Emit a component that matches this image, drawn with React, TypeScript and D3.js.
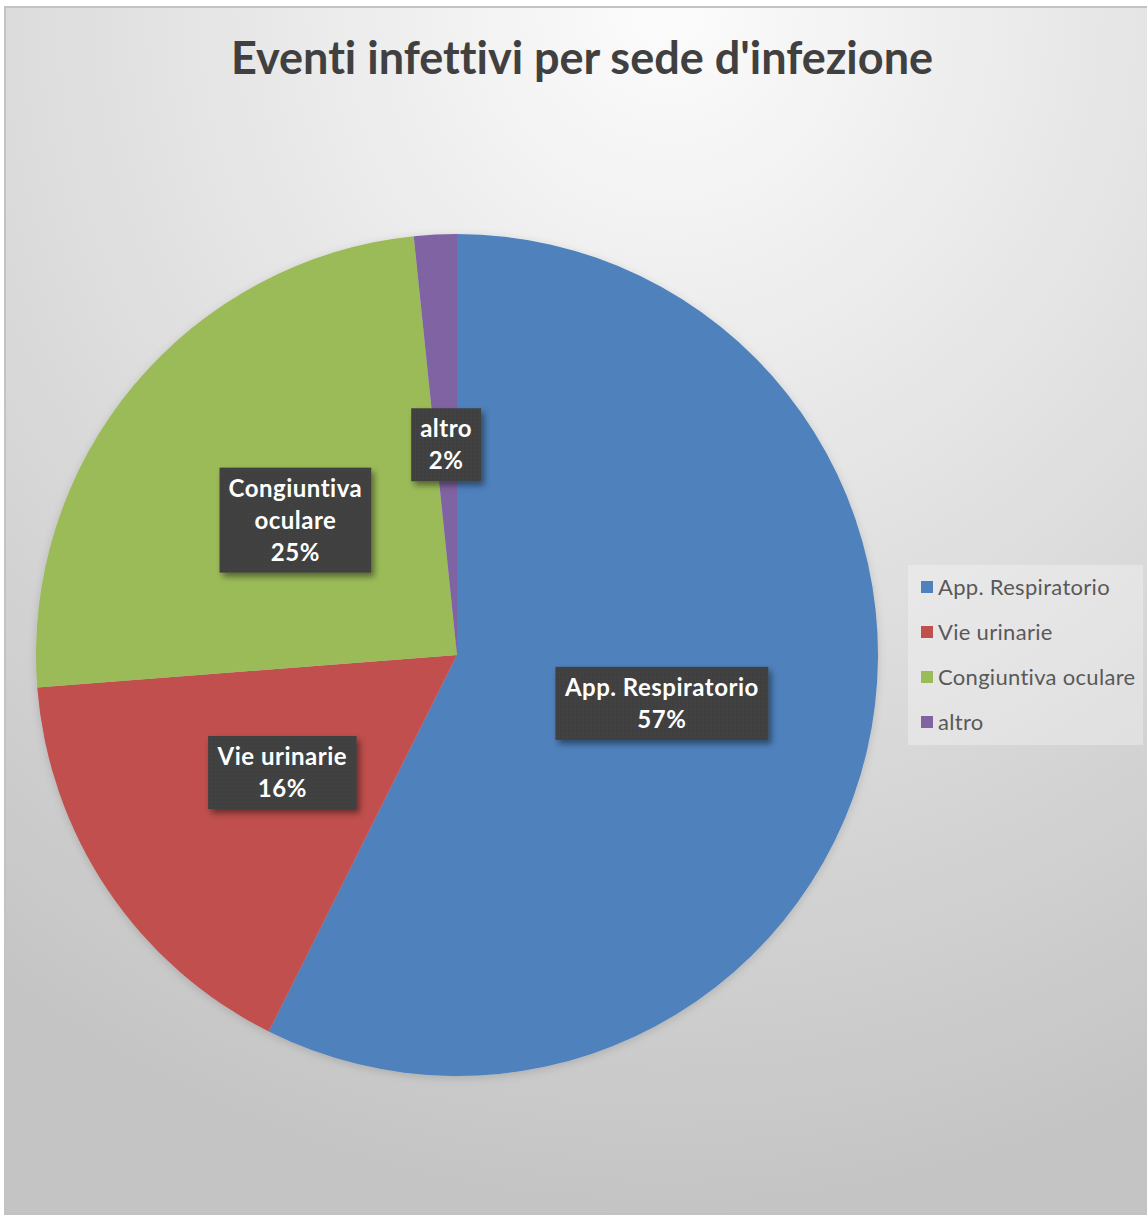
import React, { useEffect, useRef } from "react";
import * as d3 from "d3";

const title = "Eventi infettivi per sede d'infezione";
const categories = ["App. Respiratorio", "Vie urinarie", "Congiuntiva oculare", "altro"];
const values = [35, 10, 15, 1];
const colors = ["#4f81bd", "#c0504d", "#9bbb59", "#8064a2"];
const labelLines = [["App. Respiratorio"], ["Vie urinarie"], ["Congiuntiva", "oculare"], ["altro"]];

const W = 1147;
const H = 1215;
const FONT = "Lato, 'Open Sans', sans-serif";

export default function App() {
  const ref = useRef<SVGSVGElement>(null);

  useEffect(() => {
    const svg = d3.select(ref.current);
    svg.selectAll("*").remove();
    svg.style("font-variant-ligatures", "none").style("font-feature-settings", "'liga' 0, 'clig' 0");

    const defs = svg.append("defs");
    const grad = defs.append("radialGradient").attr("id", "bg")
      .attr("cx", 0.58).attr("cy", 0.0).attr("r", 1.0).attr("fx", 0.58).attr("fy", 0.0);
    grad.append("stop").attr("offset", "0%").attr("stop-color", "#fcfcfc");
    grad.append("stop").attr("offset", "100%").attr("stop-color", "#c4c4c4");

    const sh = defs.append("filter").attr("id", "shadow").attr("x", "-20%").attr("y", "-20%").attr("width", "150%").attr("height", "150%");
    sh.append("feDropShadow").attr("dx", 3).attr("dy", 4).attr("stdDeviation", 3).attr("flood-color", "#000").attr("flood-opacity", 0.45);

    const psh = defs.append("filter").attr("id", "pshadow").attr("x", "-10%").attr("y", "-10%").attr("width", "120%").attr("height", "120%");
    psh.append("feDropShadow").attr("dx", 0).attr("dy", 2).attr("stdDeviation", 4).attr("flood-color", "#000").attr("flood-opacity", 0.15);

    const pat = defs.append("pattern").attr("id", "dots").attr("width", 4).attr("height", 4).attr("patternUnits", "userSpaceOnUse");
    pat.append("rect").attr("width", 4).attr("height", 4).attr("fill", "#404040");
    pat.append("rect").attr("x", 1).attr("y", 1).attr("width", 1).attr("height", 1).attr("fill", "#4a4a4a");

    svg.append("rect").attr("x", 5).attr("y", 7).attr("width", W - 4).attr("height", H - 7)
      .attr("fill", "url(#bg)").attr("stroke", "#c3c3c3").attr("stroke-width", 2);

    svg.append("text").attr("x", 582).attr("y", 74).attr("text-anchor", "middle")
      .attr("font-family", FONT).attr("font-weight", 700).attr("font-size", 45)
      .attr("fill", "#404040").text(title);

    const cx = 457, cy = 655, R = 421;
    const pie = d3.pie<number>().sort(null).value((d) => d);
    const arcs = pie(values);
    const arc = d3.arc<d3.PieArcDatum<number>>().innerRadius(0).outerRadius(R);
    const g = svg.append("g").attr("transform", `translate(${cx},${cy})`);
    g.append("g").attr("filter", "url(#pshadow)").selectAll("path").data(arcs).join("path")
      .attr("d", arc as any).attr("fill", (_, i) => colors[i]);

    const total = d3.sum(values);
    const lineH = 32;
    arcs.forEach((a, i) => {
      const [lx, ly] = arc.centroid(a);
      const lines = [...labelLines[i], `${Math.round((values[i] / total) * 100)}%`];
      const lg = g.append("g").attr("transform", `translate(${lx},${ly})`);
      const rect = lg.append("rect").attr("fill", "url(#dots)").attr("filter", "url(#shadow)");
      const t = lg.append("text").attr("text-anchor", "middle").attr("font-family", FONT)
        .attr("font-weight", 700).attr("font-size", 24).attr("letter-spacing", 0.5).attr("fill", "#ffffff");
      const y0 = -((lines.length - 1) * lineH) / 2;
      lines.forEach((l, k) => {
        t.append("tspan").attr("x", 0).attr("y", y0 + k * lineH).attr("dy", "0.35em").text(l);
      });
      const bb = (t.node() as SVGTextElement).getBBox();
      const w = bb.width + 18;
      const h = lines.length * lineH + 9;
      rect.attr("x", -w / 2).attr("y", -h / 2).attr("width", w).attr("height", h);
    });

    const lgx = 908, lgy = 565;
    svg.append("rect").attr("x", lgx).attr("y", lgy).attr("width", 235).attr("height", 180)
      .attr("fill", "#ffffff").attr("fill-opacity", 0.3);
    categories.forEach((c, i) => {
      const y = 587 + i * 45;
      svg.append("rect").attr("x", 921).attr("y", y - 6).attr("width", 12).attr("height", 12).attr("fill", colors[i]);
      svg.append("text").attr("x", 938).attr("y", y).attr("dy", "0.35em")
        .attr("font-family", FONT).attr("font-size", 22).attr("letter-spacing", 0.3).attr("fill", "#595959").text(c);
    });
  }, []);

  return <svg ref={ref} width={W} height={H} style={{ display: "block", position: "absolute", left: 0, top: 0 }} />;
}
